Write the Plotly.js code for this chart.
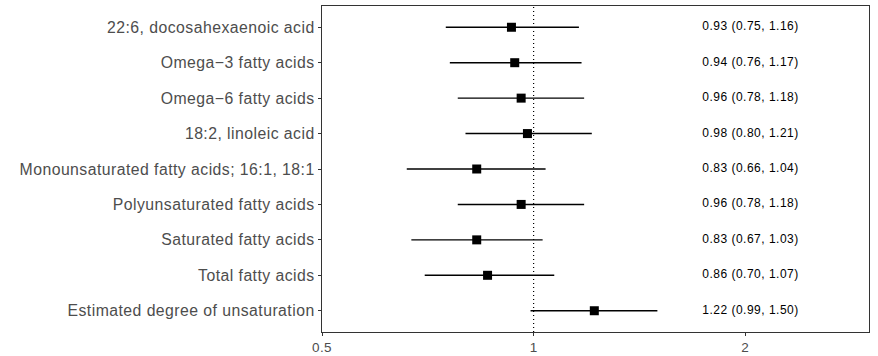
<!DOCTYPE html>
<html><head><meta charset="utf-8">
<script src="https://cdn.plot.ly/plotly-3.0.1.min.js"></script>
<style>
html,body{margin:0;padding:0;background:#fff}
#chart{width:878px;height:356px}
#chart .ytick text{letter-spacing:0.45px}
#chart .xtick text{letter-spacing:0.4px}
#chart .textpoint text{letter-spacing:0.5px}
</style>
</head><body><div id="chart"></div>
<script>
const categories = [
  "22:6, docosahexaenoic acid",
  "Omega\u22123 fatty acids",
  "Omega\u22126 fatty acids",
  "18:2, linoleic acid",
  "Monounsaturated fatty acids; 16:1, 18:1",
  "Polyunsaturated fatty acids",
  "Saturated fatty acids",
  "Total fatty acids",
  "Estimated degree of unsaturation"
];
const estimate = [0.93, 0.94, 0.96, 0.98, 0.83, 0.96, 0.83, 0.86, 1.22];
const lower    = [0.75, 0.76, 0.78, 0.80, 0.66, 0.78, 0.67, 0.70, 0.99];
const upper    = [1.16, 1.17, 1.18, 1.21, 1.04, 1.18, 1.03, 1.07, 1.50];
const xTickVals = [0.5, 1, 2];
const xTickText = ["0.5", "1", "2"];
const refValue = 1;
const labelX = 2.035;

const FONT = '"Liberation Sans", Arial, Helvetica, sans-serif';
const fmt = v => v.toFixed(2);
const labels = estimate.map((e, i) => `${fmt(e)} (${fmt(lower[i])}, ${fmt(upper[i])})`);
const orderBottomUp = categories.slice().reverse();

const traces = [
  {
    type: 'scatter', mode: 'markers',
    x: estimate, y: categories,
    marker: {symbol: 'square', size: 9, color: '#000'},
    error_x: {
      type: 'data', symmetric: false,
      array: estimate.map((e, i) => upper[i] - e),
      arrayminus: estimate.map((e, i) => e - lower[i]),
      width: 0, thickness: 1.4, color: '#000'
    },
    hoverinfo: 'skip', showlegend: false
  },
  {
    type: 'scatter', mode: 'text',
    x: categories.map(() => labelX), y: categories,
    text: labels, textposition: 'middle center',
    textfont: {family: FONT, size: 12, color: '#000'},
    hoverinfo: 'skip', showlegend: false
  }
];

const layout = {
  width: 878, height: 356,
  margin: {l: 322, r: 9, t: 6, b: 24},
  paper_bgcolor: '#fff', plot_bgcolor: '#fff',
  font: {family: FONT},
  xaxis: {
    type: 'log',
    range: [Math.log10(0.5), Math.log10(3.0)],
    tickvals: xTickVals, ticktext: xTickText,
    ticks: 'outside', ticklen: 3, tickwidth: 1, tickcolor: '#333',
    tickfont: {family: FONT, size: 13.5, color: '#4d4d4d'},
    showgrid: false, zeroline: false,
    showline: true, linecolor: '#333', linewidth: 1.2, mirror: true
  },
  yaxis: {
    type: 'category',
    categoryorder: 'array', categoryarray: orderBottomUp,
    range: [-0.6, 8.6],
    ticks: 'outside', ticklen: 3, tickwidth: 1, tickcolor: '#333',
    tickfont: {family: FONT, size: 15.8, color: '#4d4d4d'},
    showgrid: false, zeroline: false,
    showline: true, linecolor: '#333', linewidth: 1.2, mirror: true
  },
  shapes: [{
    type: 'line', xref: 'x', yref: 'paper',
    x0: refValue, x1: refValue, y0: 0, y1: 1,
    line: {color: '#000', width: 1.2, dash: '1px,3px'}
  }]
};

Plotly.newPlot('chart', traces, layout, {displayModeBar: false, staticPlot: true});
</script>
</body></html>
